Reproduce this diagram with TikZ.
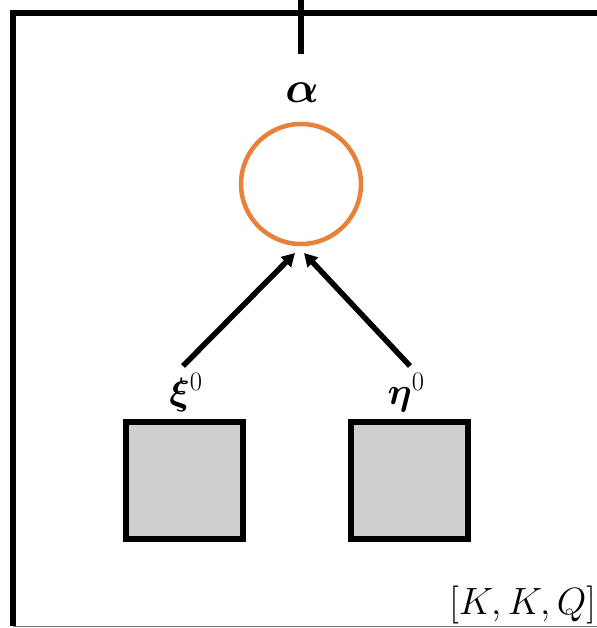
\RequirePackage{fix-cm}
\documentclass[tikz,border=0pt]{standalone}
\usepackage{bm}
\usetikzlibrary{arrows.meta,positioning}
\definecolor{Ink}{HTML}{000000}
\definecolor{Orange}{HTML}{E8823A}
\definecolor{Param}{HTML}{D0CFD0}
\definecolor{Edge}{HTML}{707070}

\begin{document}
\begin{tikzpicture}[x=1pt,y=-1pt,font=\fontsize{38}{44}\selectfont,>={Triangle[length=13pt,width=14pt]},
 var/.style={circle,draw=Orange,line width=4.5pt,minimum size=120pt,inner sep=0pt},
 param/.style={rectangle,draw=Ink,fill=Param,line width=6pt,minimum size=117pt,inner sep=0pt},
 plate/.style={draw=Ink,line width=5.5pt},
 flow/.style={->,line width=5.5pt,draw=Ink}]
 \useasboundingbox (0,0) rectangle (596,628);
 % plate
 \draw[plate] (13,626) -- (13,13) -- (600,13);
 \draw[draw=Edge,line width=1pt] (13,626) -- (600,626);
 \node[anchor=base east,inner sep=0pt] (dims) at (596,614) {$[K,K,Q]$};
 % latent variable
 \node[var] (alpha) at (301,184) {};
 \node[font=\fontsize{44}{50}\selectfont] (alphalab) at (302,93) {$\bm{\alpha}$};
 \coordinate (in) at (301,-2);
 \coordinate (inend) at (301,54);
 \draw[plate] (in) -- (inend);
 % parameters
 \node[param] (xi) at (184.5,480) {};
 \node[param] (eta) at (409.5,480) {};
 \node (xilab) at (186,393) {$\bm{\xi}^{\mathrm{0}}$};
 \node (etalab) at (406,393) {$\bm{\eta}^{\mathrm{0}}$};
 \coordinate (xiout) at (183,366);
 \coordinate (etaout) at (410,366);
 \coordinate (xiin) at (295,253);
 \coordinate (etain) at (304,253);
 \draw[flow] (xiout) -- (xiin);
 \draw[flow] (etaout) -- (etain);
\end{tikzpicture}
\end{document}
